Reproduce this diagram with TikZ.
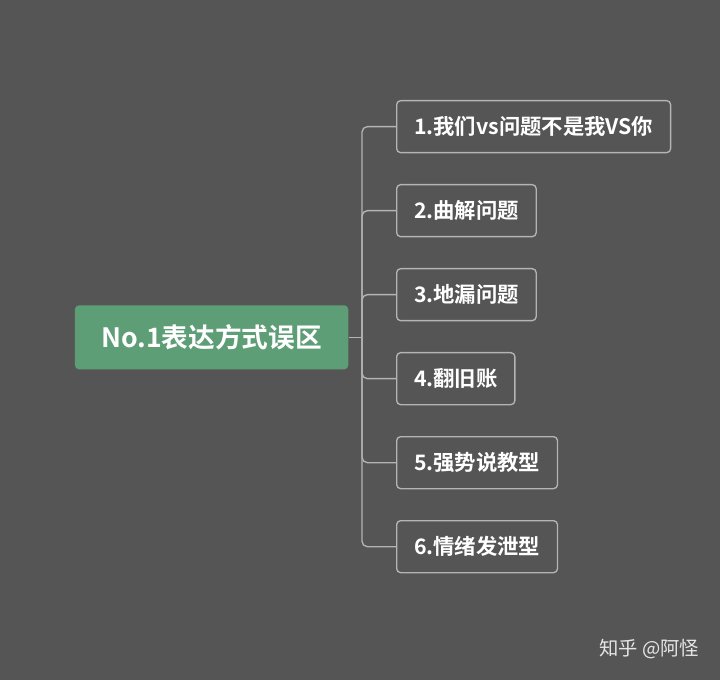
\documentclass[tikz,border=0pt]{standalone}
\usepackage{fontspec}
\setmainfont{Noto Sans CJK SC Bold}
\newfontfamily\markfont{Noto Sans CJK SC}
\usetikzlibrary{positioning}
\definecolor{bggray}{HTML}{555555}
\definecolor{rootgreen}{HTML}{5E9E77}
\definecolor{edgegray}{HTML}{B4B4B4}
\begin{document}
\begin{tikzpicture}[
x=1pt,y=-1pt,
rootbox/.style={draw=none,fill=rootgreen,rounded corners=3pt,text=white,font=\fontsize{20}{24}\selectfont,minimum height=48pt,anchor=west,inner xsep=0pt},
leafbox/.style={draw=edgegray,line width=1pt,fill=bggray,rounded corners=3pt,text=white,font=\fontsize{16}{19}\selectfont,minimum height=39pt,anchor=west,inner xsep=13pt},
link/.style={draw=edgegray,line width=1pt,rounded corners=4pt},
]
\fill[bggray] (0,0) rectangle (540,510);
\useasboundingbox (0,0) rectangle (540,510);
\node[rootbox,minimum width=205pt] (root) at (56,253) {No.1表达方式误区};
% branches
\node[leafbox] (b1) at (297,95) {1.我们vs问题不是我VS你};
\node[leafbox] (b2) at (297,158) {2.曲解问题};
\node[leafbox] (b3) at (297,221) {3.地漏问题};
\node[leafbox] (b4) at (297,284) {4.翻旧账};
\node[leafbox] (b5) at (297,347) {5.强势说教型};
\node[leafbox] (b6) at (297,410) {6.情绪发泄型};
\coordinate (fork) at (271.5,253);
\draw[link] (root.east) -- (fork);
\foreach \b in {b1,b2,b3,b4,b5,b6}
  \draw[link] (fork) |- (\b.west);
\node[text=white!85!bggray,font=\markfont\fontsize{14.5}{17}\selectfont,anchor=east] (mark) at (528,487) {知乎 @阿怪};
\end{tikzpicture}
\end{document}
